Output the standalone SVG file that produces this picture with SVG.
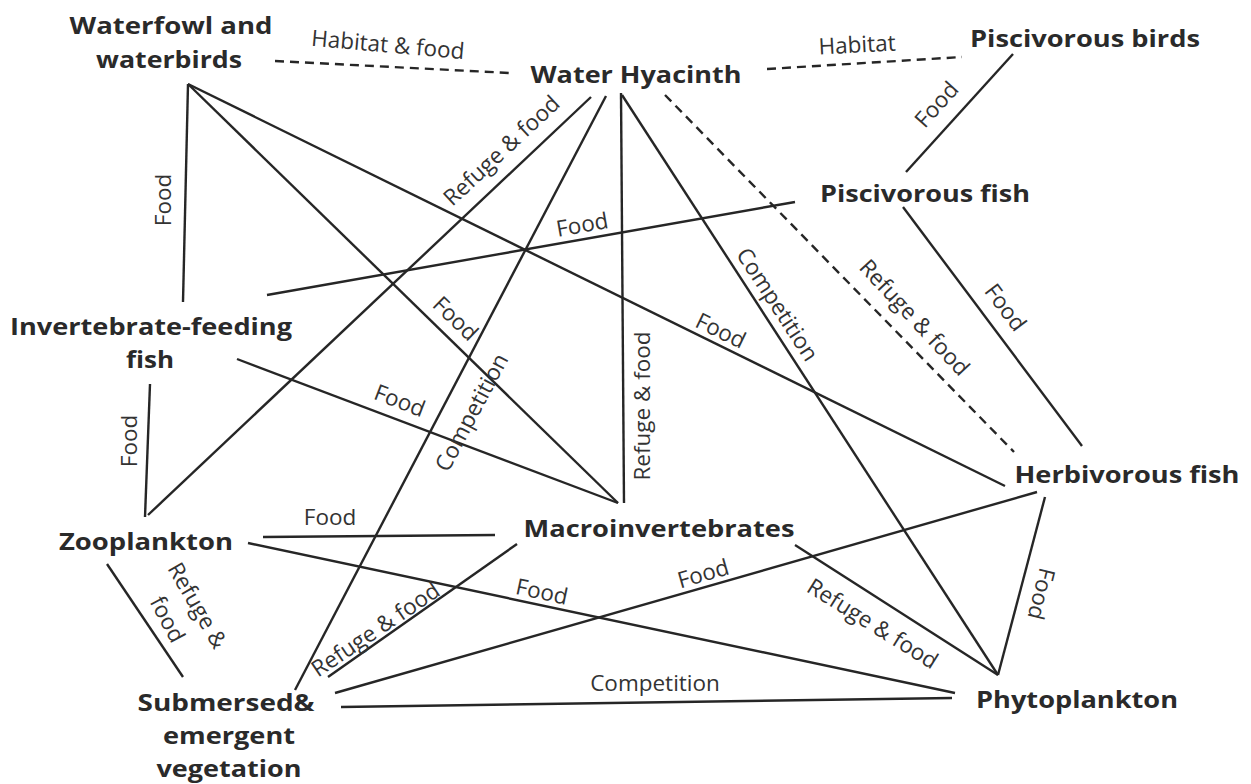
<svg xmlns="http://www.w3.org/2000/svg" width="1251" height="784" viewBox="0 0 1251 784">
<style>
.node text{font-family:"Open Sans","Noto Sans",sans-serif;font-weight:bold;font-size:24px;fill:#2a2a2a;text-anchor:middle}
.lbl{font-family:"Open Sans","Noto Sans",sans-serif;font-size:22.5px;fill:#333;text-anchor:middle;dominant-baseline:central}
#connectors line{stroke:#262626;stroke-width:2.4;fill:none;stroke-linecap:butt}
#connectors line.d{stroke-dasharray:9 6}
</style>
<rect width="1251" height="784" fill="#ffffff"/>
<g id="connectors">
<line class="d" x1="275" y1="61" x2="510" y2="73"/>
<line class="d" x1="767" y1="69" x2="962" y2="57"/>
<line x1="1013" y1="54" x2="906" y2="172"/>
<line x1="903" y1="207" x2="1082" y2="446"/>
<line class="d" x1="665" y1="95" x2="1014" y2="452"/>
<line x1="188" y1="84" x2="183" y2="302"/>
<line x1="188" y1="84" x2="618" y2="503"/>
<line x1="188" y1="84" x2="1005" y2="486"/>
<line x1="591" y1="97" x2="148" y2="515"/>
<line x1="606" y1="96" x2="295" y2="690"/>
<line x1="621" y1="93" x2="624" y2="503"/>
<line x1="622" y1="95" x2="998" y2="675"/>
<line x1="267" y1="295" x2="795" y2="202"/>
<line x1="237" y1="359" x2="618" y2="503"/>
<line x1="150" y1="384" x2="145" y2="517"/>
<line x1="263" y1="537" x2="495" y2="535"/>
<line x1="248" y1="543" x2="955" y2="693"/>
<line x1="107" y1="564" x2="183" y2="677"/>
<line x1="517" y1="544" x2="328" y2="677"/>
<line x1="795" y1="545" x2="998" y2="675"/>
<line x1="1037" y1="492" x2="335" y2="693"/>
<line x1="1045" y1="497" x2="998" y2="675"/>
<line x1="341" y1="707" x2="952" y2="698"/>
</g>
<g id="labels">
<text class="lbl" transform="translate(388,44) rotate(5)">Habitat &amp; food</text>
<text class="lbl" transform="translate(857,44) rotate(-3)">Habitat</text>
<text class="lbl" transform="translate(936,104) rotate(-48)">Food</text>
<text class="lbl" transform="translate(1006,307) rotate(53)">Food</text>
<text class="lbl" transform="translate(915,317) rotate(47)">Refuge &amp; food</text>
<text class="lbl" transform="translate(162,200) rotate(-90)">Food</text>
<text class="lbl" transform="translate(456,318) rotate(44)">Food</text>
<text class="lbl" transform="translate(721,330) rotate(26)">Food</text>
<text class="lbl" transform="translate(501,150) rotate(-43)">Refuge &amp; food</text>
<text class="lbl" transform="translate(471,412) rotate(-62)">Competition</text>
<text class="lbl" transform="translate(641,406) rotate(-90)">Refuge &amp; food</text>
<text class="lbl" transform="translate(778,304) rotate(57)">Competition</text>
<text class="lbl" transform="translate(582,224) rotate(-10)">Food</text>
<text class="lbl" transform="translate(400,400) rotate(21)">Food</text>
<text class="lbl" transform="translate(128,441) rotate(-90)">Food</text>
<text class="lbl" transform="translate(330,516)">Food</text>
<text class="lbl" transform="translate(542,591) rotate(12)">Food</text>
<text class="lbl" transform="translate(198,605) rotate(60)">Refuge &amp;</text>
<text class="lbl" transform="translate(168,619) rotate(62)">food</text>
<text class="lbl" transform="translate(375,629) rotate(-34)">Refuge &amp; food</text>
<text class="lbl" transform="translate(873,623) rotate(32)">Refuge &amp; food</text>
<text class="lbl" transform="translate(703,573) rotate(-16)">Food</text>
<text class="lbl" transform="translate(1042,594) rotate(104)">Food</text>
<text class="lbl" transform="translate(655,682)">Competition</text>
</g>
<g id="waterfowl" class="node"><text x="171" y="34" textLength="203" lengthAdjust="spacingAndGlyphs">Waterfowl and</text><text x="169" y="68" textLength="146" lengthAdjust="spacingAndGlyphs">waterbirds</text></g>
<g id="water-hyacinth" class="node"><text x="636" y="83" textLength="211" lengthAdjust="spacingAndGlyphs">Water Hyacinth</text></g>
<g id="piscivorous-birds" class="node"><text x="1085" y="47" textLength="230" lengthAdjust="spacingAndGlyphs">Piscivorous birds</text></g>
<g id="piscivorous-fish" class="node"><text x="925" y="202" textLength="210" lengthAdjust="spacingAndGlyphs">Piscivorous fish</text></g>
<g id="invertebrate-feeding-fish" class="node"><text x="151" y="335" textLength="282" lengthAdjust="spacingAndGlyphs">Invertebrate-feeding</text><text x="150" y="368" textLength="48" lengthAdjust="spacingAndGlyphs">fish</text></g>
<g id="zooplankton" class="node"><text x="146" y="550" textLength="174" lengthAdjust="spacingAndGlyphs">Zooplankton</text></g>
<g id="macroinvertebrates" class="node"><text x="659" y="537" textLength="271" lengthAdjust="spacingAndGlyphs">Macroinvertebrates</text></g>
<g id="herbivorous-fish" class="node"><text x="1127" y="483" textLength="225" lengthAdjust="spacingAndGlyphs">Herbivorous fish</text></g>
<g id="phytoplankton" class="node"><text x="1077" y="708" textLength="202" lengthAdjust="spacingAndGlyphs">Phytoplankton</text></g>
<g id="submersed-vegetation" class="node"><text x="226" y="711" textLength="177" lengthAdjust="spacingAndGlyphs">Submersed&amp;</text><text x="229" y="744" textLength="132" lengthAdjust="spacingAndGlyphs">emergent</text><text x="229" y="777" textLength="145" lengthAdjust="spacingAndGlyphs">vegetation</text></g>
</svg>
